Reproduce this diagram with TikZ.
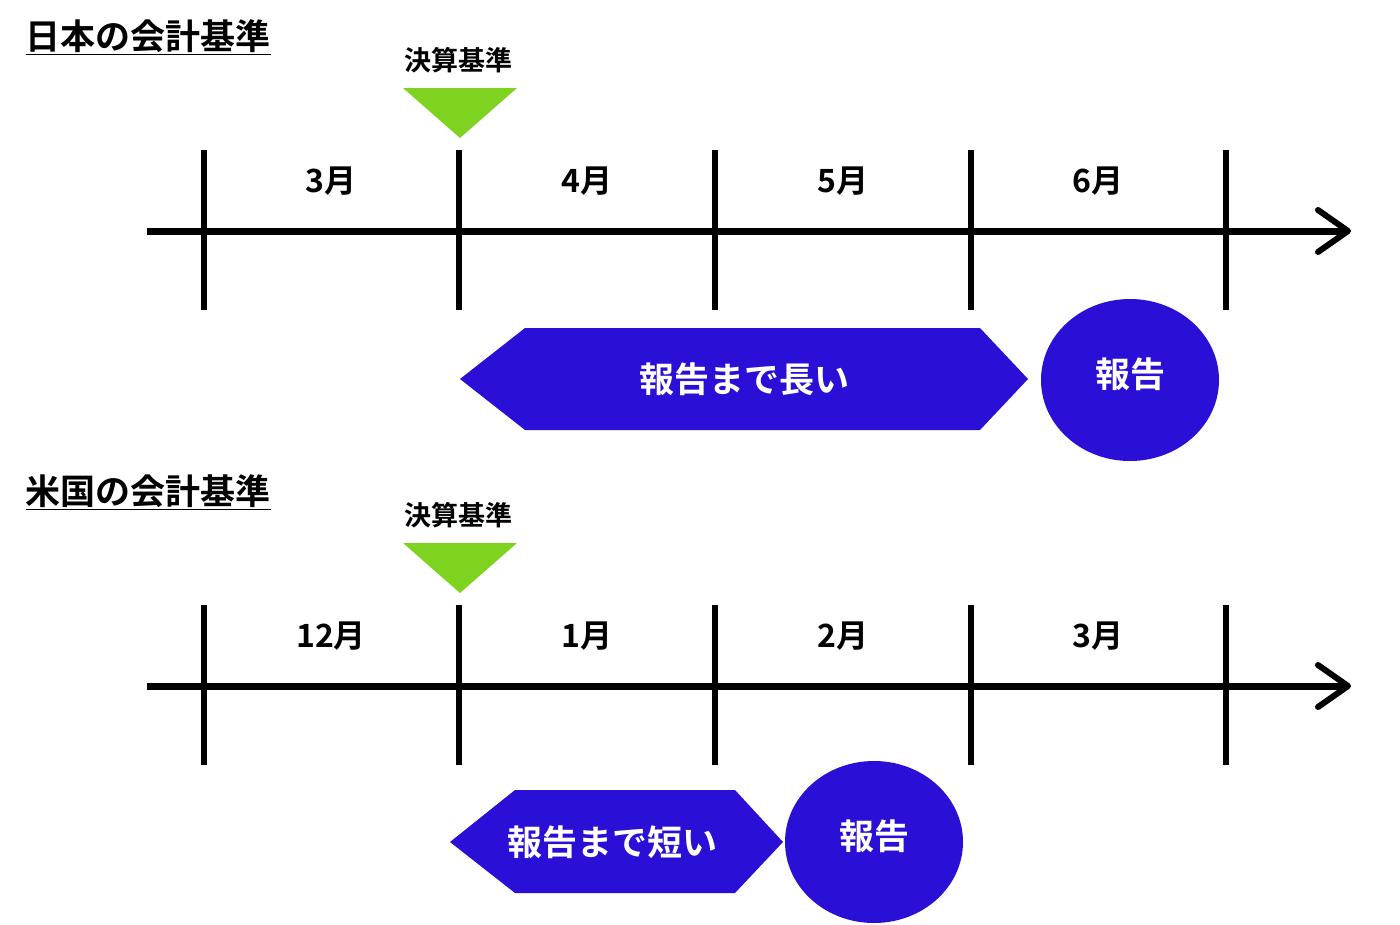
\documentclass[tikz,border=0pt]{standalone}
\usepackage{fontspec}
\setmainfont{Noto Sans CJK JP}[BoldFont={Noto Sans CJK JP Bold}]
\newfontfamily\jpb{Noto Sans CJK JP Bold}
\definecolor{rblue}{HTML}{2A0FD6}
\definecolor{rgreen}{HTML}{7ED321}
\tikzset{
 tick/.style={line width=6pt},
 axisline/.style={line width=7pt},
 tri/.style={fill=rgreen},
 month/.style={font=\jpb\fontsize{32}{34}\selectfont},
 lab/.style={font=\jpb\fontsize{27}{30}\selectfont},
 ttl/.style={font=\jpb\fontsize{35}{38}\selectfont,anchor=west},
 wtxt/.style={font=\jpb\fontsize{35}{38}\selectfont,text=white},
 shp/.style={fill=rblue},
}
\begin{document}
\begin{tikzpicture}[x=1pt,y=-1pt]
\useasboundingbox (0,0) rectangle (1400,924);
\foreach \dy/\ta/\tb/\tc/\td/\title/\name in {0/3月/4月/5月/6月/日本の会計基準/a,455/12月/1月/2月/3月/米国の会計基準/b}{
 \node[ttl] (t\name) at (22,37+\dy) {\underline{\title}};
 \node[lab] (k\name) at (458,60+\dy) {決算基準};
 \fill[tri] (403,88+\dy) -- (517,88+\dy) -- (460,138+\dy) -- cycle;
 \coordinate (s\name) at (147,231+\dy);
 \coordinate (e\name) at (1348,231+\dy);
 \draw[axisline] (s\name) -- (e\name);
 \draw[line width=6pt,line cap=round,line join=round] (1318,210+\dy) -- (1348,231+\dy) -- (1318,252+\dy);
 \foreach \x in {204,459,715,971,1226}{\draw[tick] (\x,150+\dy) -- (\x,310+\dy);}
 \node[month] (m1\name) at (331,181+\dy) {\ta};
 \node[month] (m2\name) at (587,181+\dy) {\tb};
 \node[month] (m3\name) at (843,181+\dy) {\tc};
 \node[month] (m4\name) at (1098,181+\dy) {\td};
}
% top
\fill[shp] (460,379) -- (525,328) -- (980,328) -- (1028,379) -- (980,430) -- (525,430) -- cycle;
\node[wtxt] (l1) at (744,379) {報告まで長い};
\fill[shp] (1130,380) ellipse [x radius=89, y radius=81];
\node[wtxt] (r1) at (1130,374) {報告};
% bottom
\fill[shp] (450,842) -- (515,790) -- (735,790) -- (783,842) -- (735,893) -- (515,893) -- cycle;
\node[wtxt] (l2) at (612,842) {報告まで短い};
\fill[shp] (874,842) ellipse [x radius=89, y radius=81];
\node[wtxt] (r2) at (874,836) {報告};
\end{tikzpicture}
\end{document}
